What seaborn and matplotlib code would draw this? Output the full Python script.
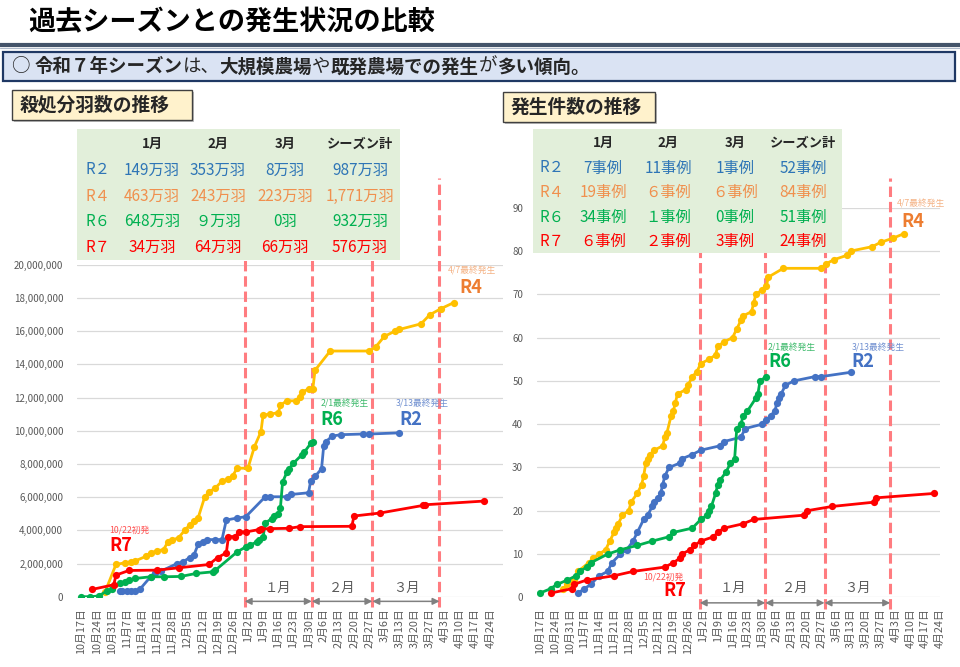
import matplotlib
matplotlib.use("Agg")
import matplotlib.pyplot as plt
from matplotlib.patches import Rectangle
from matplotlib.ticker import FuncFormatter
import pandas as pd
import seaborn as sns

# x = days counted from 10月17日
start = pd.Timestamp("2025-10-17")
seasons = ["R4", "R2", "R6", "R7"]
colors = {"R2": "#4472C4", "R4": "#FFC000", "R6": "#00B050", "R7": "#FF0000"}
label_colors = {"R2": "#4472C4", "R4": "#ED7D31", "R6": "#00B050", "R7": "#FF0000"}

# 殺処分羽数 (cumulative, 万羽)
r2_heads_days = [18, 19, 21, 23, 25, 27, 32, 34, 37, 44, 47, 50, 52, 54, 56, 58, 62, 65, 67, 72,
                 76, 85, 87, 95, 97, 105, 106, 108, 111, 112, 113, 116, 120, 130, 133, 147]
r2_heads = [32, 32, 34, 34, 36, 44, 120, 145, 155, 198, 210, 235, 250, 316, 330, 344, 344, 344, 462, 474,
            482, 602, 602, 602, 616, 626, 700, 725, 770, 908, 934, 968, 976, 980, 980, 987]
r4_heads_days = [11, 16, 20, 23, 25, 30, 32, 35, 38, 40, 42, 45, 48, 50, 52, 54, 57, 59, 62, 65,
                 68, 70, 72, 77, 80, 83, 84, 87, 91, 92, 95, 99, 101, 102, 105, 107, 108, 115, 133, 136,
                 140, 145, 147, 157, 161, 166, 172]
r4_heads = [30, 194, 204, 210, 216, 244, 264, 276, 284, 330, 340, 356, 404, 430, 456, 476, 600, 630, 656, 696,
            710, 730, 774, 774, 904, 994, 1094, 1100, 1108, 1154, 1180, 1180, 1204, 1234, 1250, 1254, 1364, 1480, 1480, 1504,
            1568, 1600, 1610, 1644, 1698, 1734, 1771]
r6_heads_days = [0, 4, 8, 12, 14, 18, 20, 22, 25, 32, 38, 46, 53, 61, 62, 72, 76, 78, 81, 82,
                 84, 85, 88, 89, 91, 92, 93, 95, 96, 98, 102, 103, 106, 107]
r6_heads = [0, 0, 4, 36, 44, 80, 90, 100, 110, 120, 120, 122, 140, 150, 160, 270, 300, 310, 330, 344,
            360, 444, 470, 486, 500, 536, 690, 750, 770, 804, 856, 870, 923, 932]
r7_heads_days = [5, 15, 16, 22, 35, 45, 59, 63, 67, 68, 71, 73, 76, 82, 83, 87, 96, 101, 125, 126,
                 138, 158, 159, 186]
r7_heads = [44, 72, 130, 158, 160, 174, 194, 236, 264, 362, 362, 390, 390, 404, 408, 410, 412, 422, 424, 486,
            504, 550, 554, 576]

# 発生件数 (cumulative cases)
r2_case_days = [18, 21, 24, 28, 32, 34, 38, 41, 44, 46, 49, 51, 53, 54, 56, 57, 58, 59, 61, 66,
                67, 72, 76, 85, 87, 95, 97, 105, 107, 109, 111, 112, 113, 114, 116, 120, 130, 133, 147]
r2_cases = [1, 2, 3, 5, 6, 8, 10, 11, 13, 15, 18, 19, 21, 22, 23, 24, 26, 28, 30, 31,
            32, 33, 34, 35, 36, 37, 39, 40, 41, 42, 43, 45, 46, 47, 49, 50, 51, 51, 52]
r4_case_days = [11, 13, 16, 18, 23, 25, 28, 31, 33, 35, 36, 37, 39, 42, 43, 46, 48, 49, 50, 51,
                52, 54, 58, 59, 60, 62, 63, 64, 65, 69, 70, 72, 74, 76, 80, 83, 84, 87, 91, 93,
                95, 96, 100, 101, 102, 105, 107, 108, 115, 133, 135, 139, 145, 147, 157, 161, 167, 172]
r4_cases = [2, 3, 4, 6, 8, 9, 10, 11, 13, 15, 16, 17, 19, 20, 22, 24, 26, 28, 31, 32,
            33, 34, 35, 37, 38, 42, 43, 45, 47, 48, 49, 51, 52, 54, 55, 56, 58, 59, 60, 62,
            64, 65, 66, 68, 70, 71, 72, 74, 76, 76, 77, 78, 79, 80, 81, 82, 83, 84]
r6_case_days = [0, 5, 8, 13, 17, 19, 22, 24, 32, 38, 46, 53, 61, 63, 72, 76, 79, 80, 81, 83,
                84, 85, 88, 90, 92, 93, 95, 96, 98, 102, 103, 104, 107]
r6_cases = [1, 2, 3, 4, 5, 6, 7, 8, 10, 11, 12, 13, 14, 15, 16, 18, 19, 20, 21, 24,
            26, 27, 29, 31, 32, 39, 40, 42, 43, 46, 47, 50, 51]
r7_case_days = [5, 15, 16, 22, 35, 44, 59, 63, 66, 67, 71, 73, 76, 82, 84, 87, 96, 101, 125, 126,
                138, 158, 159, 186]
r7_cases = [1, 2, 3, 4, 5, 6, 7, 8, 9, 10, 11, 12, 13, 14, 15, 16, 17, 18, 19, 20,
            21, 22, 23, 24]

# summary tables
months = ["1月", "2月", "3月", "シーズン計"]
table_rows = ["R２", "R４", "R６", "R７"]
table_row_keys = ["R2", "R4", "R6", "R7"]
heads_table = [["149万羽", "353万羽", "8万羽", "987万羽"],
               ["463万羽", "243万羽", "223万羽", "1,771万羽"],
               ["648万羽", "９万羽", "0羽", "932万羽"],
               ["34万羽", "64万羽", "66万羽", "576万羽"]]
cases_table = [["7事例", "11事例", "1事例", "52事例"],
               ["19事例", "６事例", "６事例", "84事例"],
               ["34事例", "１事例", "0事例", "51事例"],
               ["６事例", "２事例", "3事例", "24事例"]]
table_colors = {"R2": "#2E75B6", "R4": "#F0904E", "R6": "#00B050", "R7": "#FF0000"}

month_bounds = ["2025-12-31 12:00", "2026-01-31 12:00", "2026-02-28 12:00", "2026-03-31 12:00"]
bound_days = [(pd.Timestamp(b) - start) / pd.Timedelta(days=1) for b in month_bounds]


def long_frame(series):
    rows = []
    for name, days, vals in series:
        rows += [(name, d, v) for d, v in zip(days, vals)]
    return pd.DataFrame(rows, columns=["season", "day", "value"])


heads_df = long_frame([("R2", r2_heads_days, r2_heads), ("R4", r4_heads_days, r4_heads),
                       ("R6", r6_heads_days, r6_heads), ("R7", r7_heads_days, r7_heads)])
heads_df["value"] = heads_df["value"] * 10000
cases_df = long_frame([("R2", r2_case_days, r2_cases), ("R4", r4_case_days, r4_cases),
                       ("R6", r6_case_days, r6_cases), ("R7", r7_case_days, r7_cases)])

sns.set_style("white")
plt.rcParams["font.family"] = ["Noto Sans CJK JP", "DejaVu Sans"]

fig = plt.figure(figsize=(9.6, 6.67), dpi=100)
ax1 = fig.add_axes([77 / 960, 1 - 596.7 / 667, 197 * 2.164 / 960, 332 / 667])
ax2 = fig.add_axes([537 / 960, 1 - 597.4 / 667, 190.4 * 2.116 / 960, 389.7 / 667])

tick_days = list(range(0, 190, 7))
tick_labels = [f"{(start + pd.Timedelta(days=d)).month}月{(start + pd.Timedelta(days=d)).day}日" for d in tick_days]

for ax, df, xlim, ylim, step in [(ax1, heads_df, (-2, 195), (0, 20_000_000), 2_000_000),
                                  (ax2, cases_df, (-1.4, 189), (0, 90), 10)]:
    sns.lineplot(data=df, x="day", y="value", hue="season", hue_order=seasons, palette=colors,
                 marker="o", markersize=5.2, markeredgewidth=0, linewidth=2.0,
                 estimator=None, sort=False, legend=False, ax=ax, zorder=3)
    ax.set_xlim(*xlim)
    ax.set_ylim(*ylim)
    ax.set_yticks(range(0, int(ylim[1]) + 1, step))
    ax.set_xticks(tick_days)
    ax.set_xticklabels(tick_labels, rotation=90)
    ax.tick_params(axis="x", labelsize=7.8, colors="#595959", pad=8, length=0)
    ax.tick_params(axis="y", labelsize=7, colors="#595959", pad=10, length=0)
    ax.grid(axis="y", color="#D9D9D9", linewidth=0.9)
    ax.set_axisbelow(True)
    ax.set_xlabel("")
    ax.set_ylabel("")
    for s in ax.spines.values():
        s.set_visible(False)
    ax.patch.set_alpha(0)
    # month boundaries
    top = (178 - 596.7) / (264.7 - 596.7) if ax is ax1 else (597.4 - 178) / 389.7
    for b in bound_days:
        ax.axvline(b, ymin=-0.03, ymax=top, color="#FF7C80", linewidth=2.2,
                   linestyle=(0, (3.4, 1.6)), clip_on=False, zorder=2)
    for a, b, m in zip(bound_days[:-1], bound_days[1:], ["１月", "２月", "３月"]):
        ax.annotate("", xy=(b, -0.014), xytext=(a, -0.014), xycoords=ax.get_xaxis_transform(),
                    arrowprops=dict(arrowstyle="<|-|>", color="#808080", lw=1.1,
                                    shrinkA=0, shrinkB=0, mutation_scale=10), annotation_clip=False)
        ax.text((a + b) / 2, 0.006, m, transform=ax.get_xaxis_transform(), ha="center",
                va="bottom", fontsize=9.5, color="#595959")

ax1.yaxis.set_major_formatter(FuncFormatter(lambda v, _: f"{int(v):,}"))

# series labels
notes1 = [("R4", 169.3, 19.6e6, "4/7最終発生", 174.8, 18.6e6, "#F4B183"),
          ("R6", 110.6, 11.6e6, "2/1最終発生", 110.6, 10.7e6, "#3CB96A"),
          ("R2", 145.2, 11.6e6, "3/13最終発生", 147.1, 10.7e6, "#6F8FD0"),
          ("R7", 13.1, 4.0e6, "10/22初発", 13.1, 3.1e6, "#FF5050")]
notes2 = [("R4", 168.7, 90.9, "4/7最終発生", 171, 86.7, "#F4B183"),
          ("R6", 107.8, 57.6, "2/1最終発生", 107.8, 54.4, "#3CB96A"),
          ("R2", 147.4, 57.6, "3/13最終発生", 147.4, 54.4, "#6F8FD0"),
          ("R7", 48.7, 4.7, "10/22初発", 58.1, 1.7, "#FF5050")]
for ax, notes in [(ax1, notes1), (ax2, notes2)]:
    for key, sx, sy, small, lx, ly, scol in notes:
        ax.text(sx, sy, small, fontsize=6.3, color=scol, ha="left", va="center", zorder=6)
        ax.text(lx, ly, key, fontsize=13, fontweight="bold", color=label_colors[key],
                ha="left", va="center", zorder=6)

# overlay in pixel coordinates
ov = fig.add_axes([0, 0, 1, 1], zorder=5)
ov.set_xlim(0, 960)
ov.set_ylim(667, 0)
ov.axis("off")

ov.text(28, 22, "過去シーズンとの発生状況の比較", fontsize=19.5, fontweight="bold", va="center", color="#000000")
ov.axhline(44.5, color="#44546A", linewidth=3)
ov.axhline(47.5, color="#ADB9CA", linewidth=0.8)
ov.add_patch(Rectangle((3, 52), 952, 29, facecolor="#DAE3F3", edgecolor="#1F3864", linewidth=1.6))

parts = [("○ ", "normal"), ("令和７年シーズン", "bold"), ("は、", "normal"), ("大規模農場", "bold"),
         ("や", "normal"), ("既発農場での発生", "bold"), ("が", "normal"), ("多い傾向。", "bold")]
t = ov.text(12, 67, parts[0][0], fontsize=13.3, fontweight=parts[0][1], va="center", ha="left")
for s, w in parts[1:]:
    t = ov.annotate(s, xy=(1, 0.5), xycoords=t, fontsize=13.3, fontweight=w, va="center", ha="left")

for x0, w, label in [(12, 180, "殺処分羽数の推移"), (503, 152, "発生件数の推移")]:
    y0 = 90 if x0 < 100 else 92
    ov.add_patch(Rectangle((x0 + 2, y0 + 2), w, 30, facecolor="#BFBFBF", edgecolor="none"))
    ov.add_patch(Rectangle((x0, y0), w, 30, facecolor="#FFF2CC", edgecolor="#404040", linewidth=1))
    ov.text(x0 + 8, y0 + 15, label, fontsize=13.5, fontweight="bold", va="center", ha="left")

# tables
for box, col_x, row_y, values in [((77, 129, 323, 131), [98, 152, 218, 285, 360], [144, 170, 196, 221, 247], heads_table),
                                  ((533, 129, 309, 124), [552, 603, 668, 735, 803], [143, 168, 192, 217, 241], cases_table)]:
    ov.add_patch(Rectangle(box[:2], box[2], box[3], facecolor="#E2EFDA", edgecolor="none"))
    for cx, m in zip(col_x[1:], months):
        ov.text(cx, row_y[0], m, fontsize=9.5, fontweight="bold", ha="center", va="center")
    for ry, name, key, vals in zip(row_y[1:], table_rows, table_row_keys, values):
        c = table_colors[key]
        ov.text(col_x[0], ry, name, fontsize=11, color=c, ha="center", va="center")
        for cx, v in zip(col_x[1:], vals):
            ov.text(cx, ry, v, fontsize=11, color=c, ha="center", va="center")

fig.savefig("out.png", dpi=100)
